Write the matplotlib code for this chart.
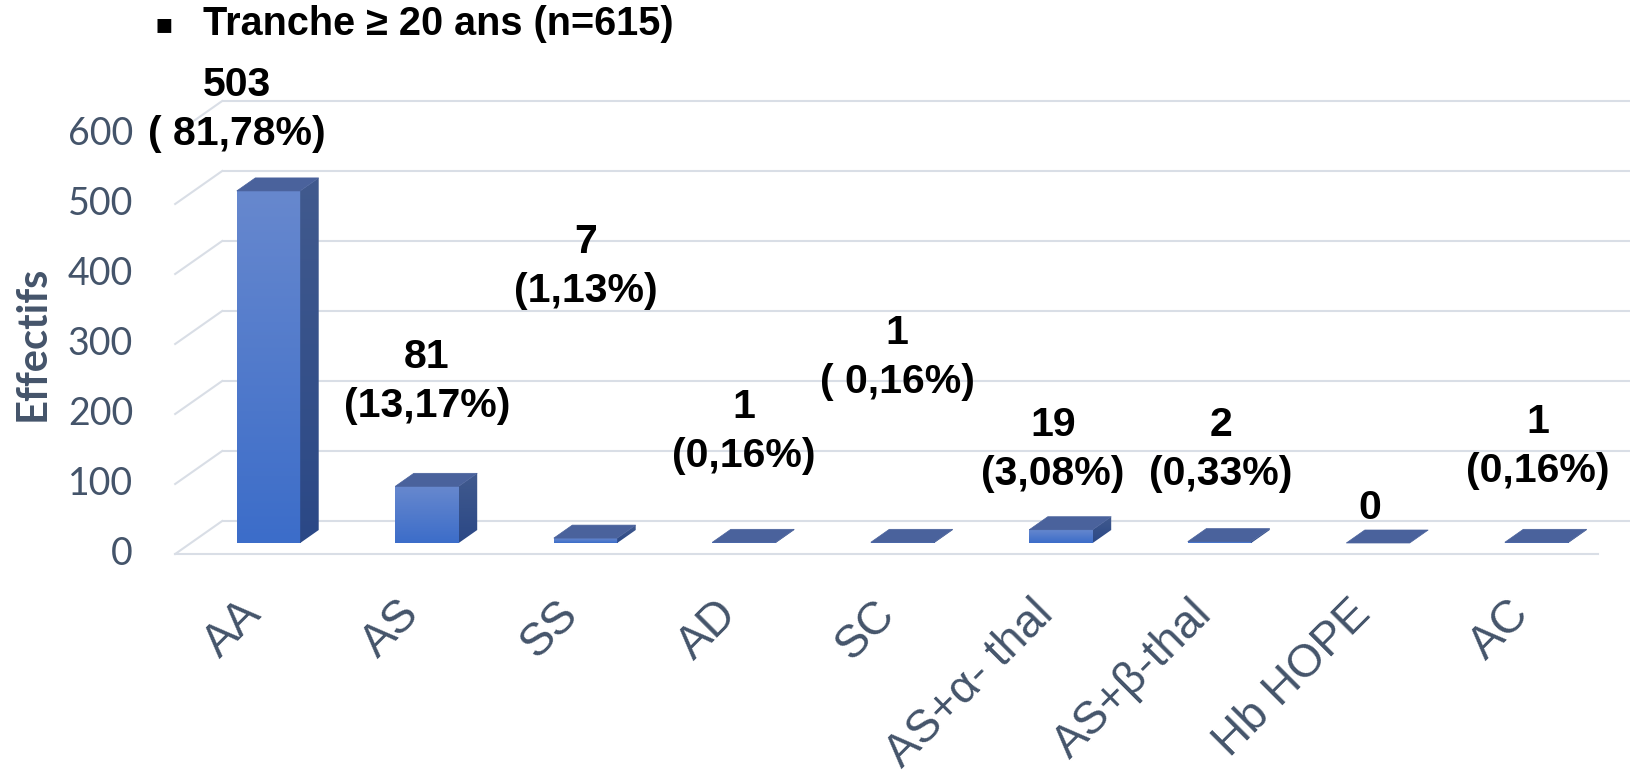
import numpy as np
import matplotlib
matplotlib.use("Agg")
import matplotlib.pyplot as plt
from matplotlib.patches import Polygon
from matplotlib.colors import LinearSegmentedColormap

# ---- data ----
categories = ["AA", "AS", "SS", "AD", "SC", "AS+α- thal", "AS+β-thal", "Hb HOPE", "AC"]
counts = [503, 81, 7, 1, 1, 19, 2, 0, 1]
percent_labels = ["( 81,78%)", "(13,17%)", "(1,13%)", "(0,16%)", "( 0,16%)",
                  "(3,08%)", "(0,33%)", "", "(0,16%)"]
y_ticks = [0, 100, 200, 300, 400, 500, 600]
title = "Tranche ≥ 20 ans (n=615)"
y_title = "Effectifs"

# label placement: (x shift in category units, height of the count line in value units)
label_offsets = [(-0.20, 654), (0.0, 266), (0.0, 430), (0.0, 194), (-0.035, 300),
                 (-0.05, 169), (0.01, 169), (-0.05, 50), (0.01, 173)]

# ---- layout (pixels) ----
W, H = 1630, 774
X0_PX, CAT_PX = 268.5, 158.5      # first category centre, category spacing
Y0_PX, PX_PER_UNIT = 543, 0.7     # baseline of the bar front faces, scale

DEPTH_DX = 47 / CAT_PX            # full depth of the floor, in category units
DEPTH_DY = 33 / PX_PER_UNIT       # full depth of the floor, in value units
D_BAR_FRONT, D_BAR_BACK = 1 / 3, 0.727
BAR_HALF = 0.2
FLOOR_L, FLOOR_R = -0.49, 8.49


def shift(d):
    k = d - D_BAR_FRONT
    return k * DEPTH_DX, k * DEPTH_DY


TEXT_GREY = "#44546A"
GRID = "#D9DEE6"
TOP_FACE = "#4A629C"
front_cmap = LinearSegmentedColormap.from_list("front", ["#3C6DC9", "#6788CE"])
side_cmap = LinearSegmentedColormap.from_list("side", ["#2B4886", "#415A8E"])

fig = plt.figure(figsize=(W / 100, H / 100), dpi=100)
ax = fig.add_axes([0, 0, 1, 1])
ax.set_xlim(-X0_PX / CAT_PX, (W - X0_PX) / CAT_PX)
ax.set_ylim((Y0_PX - H) / PX_PER_UNIT, Y0_PX / PX_PER_UNIT)
ax.axis("off")

# ---- walls, floor and gridlines ----
fdx, fdy = shift(0.0)
wdx, wdy = shift(1.0)
for v in y_ticks:
    ax.plot([FLOOR_L + wdx, FLOOR_R + wdx], [v + wdy, v + wdy], color=GRID, lw=1.5,
            solid_capstyle="butt", zorder=1)
    ax.plot([FLOOR_L + fdx, FLOOR_L + wdx], [v + fdy, v + wdy], color=GRID, lw=1.5,
            zorder=1)
ax.plot([FLOOR_L + fdx, FLOOR_R + fdx], [fdy, fdy], color=GRID, lw=1.5, zorder=1)

# ---- 3D columns ----
bdx = (D_BAR_BACK - D_BAR_FRONT) * DEPTH_DX
bdy = (D_BAR_BACK - D_BAR_FRONT) * DEPTH_DY
grad = np.linspace(1, 0, 128).reshape(-1, 1)
for i, v in enumerate(counts):
    xl, xr = i - BAR_HALF, i + BAR_HALF
    if v > 0:
        ax.imshow(grad, cmap=front_cmap, extent=[xl, xr, 0, v], aspect="auto",
                  origin="upper", interpolation="bilinear", zorder=3)
        side = Polygon([(xr, 0), (xr, v), (xr + bdx, v + bdy), (xr + bdx, bdy)],
                       closed=True, facecolor="none", edgecolor="none")
        ax.add_patch(side)
        im = ax.imshow(grad, cmap=side_cmap, extent=[xr, xr + bdx, 0, v + bdy],
                       aspect="auto", origin="upper", interpolation="bilinear", zorder=3)
        im.set_clip_path(side)
    top = Polygon([(xl, v), (xr, v), (xr + bdx, v + bdy), (xl + bdx, v + bdy)],
                  closed=True, facecolor=TOP_FACE, edgecolor=TOP_FACE, lw=0.5, zorder=4)
    ax.add_patch(top)

ax.set_xlim(-X0_PX / CAT_PX, (W - X0_PX) / CAT_PX)
ax.set_ylim((Y0_PX - H) / PX_PER_UNIT, Y0_PX / PX_PER_UNIT)

# ---- data labels ----
LABEL_SIZE = 29.5
LINE_GAP = 49 / PX_PER_UNIT
for i, (v, pct) in enumerate(zip(counts, percent_labels)):
    dx, ly = label_offsets[i]
    ax.text(i + dx, ly, f"{v}", ha="center", va="center", fontsize=LABEL_SIZE,
            fontweight="bold", family="Liberation Sans", color="black", zorder=6)
    if pct:
        ax.text(i + dx, ly - LINE_GAP, pct, ha="center", va="center", fontsize=LABEL_SIZE,
                fontweight="bold", family="Liberation Sans", color="black", zorder=6)

# ---- value axis ----
tick_x = (133 - X0_PX) / CAT_PX
for v in y_ticks:
    ax.text(tick_x, v + fdy, f"{v}", ha="right", va="center", fontsize=27,
            family="Lato", color=TEXT_GREY, zorder=6)
ax.text((33 - X0_PX) / CAT_PX, (Y0_PX - 343) / PX_PER_UNIT, y_title, rotation=90,
        ha="center", va="center", fontsize=30, fontweight="bold", family="Lato",
        color=TEXT_GREY)

# ---- category axis ----
for i, name in enumerate(categories):
    ax.text(i + 0.01, (Y0_PX - 592) / PX_PER_UNIT, name, rotation=45, ha="right",
            va="top", fontsize=33, family=["Liberation Sans", "DejaVu Sans"],
            color=TEXT_GREY)

# ---- title ----
ax.text((164 - X0_PX) / CAT_PX, (Y0_PX - 24) / PX_PER_UNIT, "▪", ha="center", va="center",
        fontsize=20, family="DejaVu Sans", color="black")
ax.text((203 - X0_PX) / CAT_PX, (Y0_PX - 24) / PX_PER_UNIT, title, ha="left", va="center",
        fontsize=28.5, fontweight="bold", family=["Liberation Sans", "DejaVu Sans"],
        color="black")

fig.savefig("out.png", dpi=100)
